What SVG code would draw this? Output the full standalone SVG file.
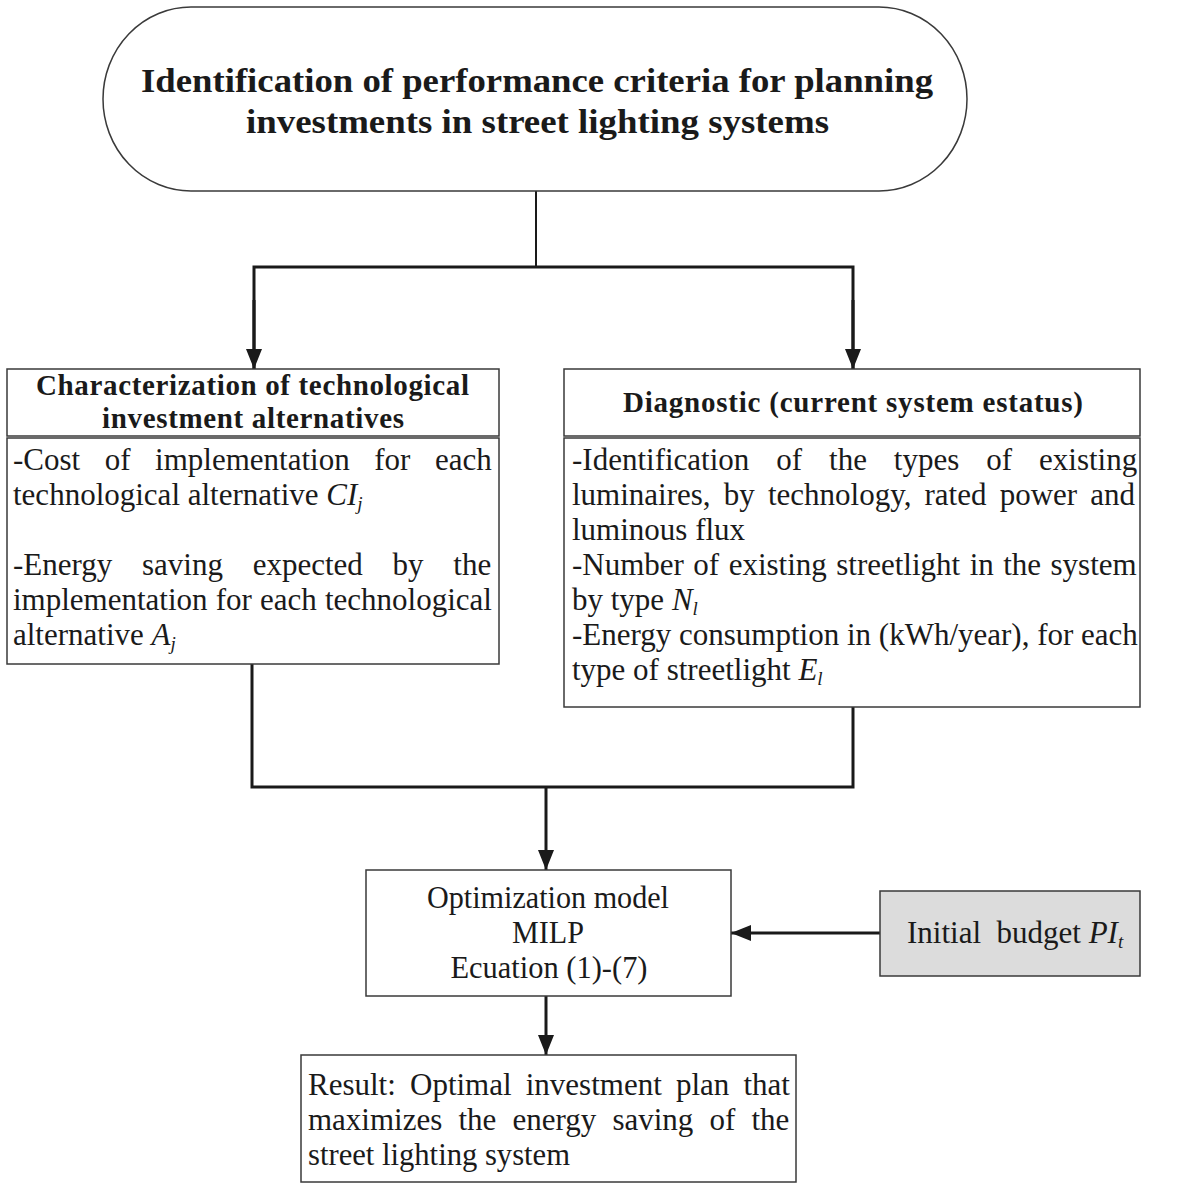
<svg xmlns="http://www.w3.org/2000/svg" width="1200" height="1186" viewBox="0 0 1200 1186">
<style>
.box{fill:#fff;stroke:#3a3a3a;stroke-width:1.5}
.gray{fill:#dcdcdc;stroke:#3a3a3a;stroke-width:1.5}
.t{font-family:"Liberation Serif","Times New Roman",serif;font-size:31px;fill:#1a1a1a}
.b{font-weight:bold;font-size:29px}
.title{font-size:33px}
.c{text-anchor:middle}
.i{font-style:italic}
.s{font-size:19px;font-style:italic}
.conn{stroke:#1a1a1a;stroke-width:3;fill:none}
</style>
<defs>
<marker id="ah" markerWidth="20" markerHeight="16" refX="20" refY="8" orient="auto" markerUnits="userSpaceOnUse">
<path d="M0,0 L20,8 L0,16 Z" fill="#1a1a1a"/>
</marker>
</defs>
<g id="connectors">
<line class="conn" x1="536" y1="191" x2="536" y2="267" style="stroke-width:2"/>
<polyline class="conn" points="254,369 254,267 853,267 853,369"/>
<line class="conn" x1="254" y1="300" x2="254" y2="369" marker-end="url(#ah)"/>
<line class="conn" x1="853" y1="300" x2="853" y2="369" marker-end="url(#ah)"/>
<polyline class="conn" points="252,664 252,787 853,787 853,707"/>
<line class="conn" x1="546" y1="787" x2="546" y2="870" marker-end="url(#ah)"/>
<line class="conn" x1="882" y1="933" x2="731" y2="933" marker-end="url(#ah)"/>
<line class="conn" x1="546" y1="996" x2="546" y2="1055" marker-end="url(#ah)"/>
</g>
<g id="start">
<rect class="box" x="103" y="7" width="864" height="184" rx="88" ry="92"/>
<text class="t b title" x="141" y="92" textLength="792" lengthAdjust="spacingAndGlyphs">Identification of performance criteria for planning</text>
<text class="t b title" x="246" y="133" textLength="583" lengthAdjust="spacingAndGlyphs">investments in street lighting systems</text>
</g>
<g id="characterization">
<rect class="box" x="7" y="369" width="492" height="67"/>
<rect class="box" x="7" y="438" width="492" height="226"/>
<text class="t b" x="36" y="395" textLength="433" lengthAdjust="spacing">Characterization of technological</text>
<text class="t b" x="102" y="428" textLength="302" lengthAdjust="spacing">investment alternatives</text>
<text class="t" x="13" y="470" style="word-spacing:16.8px">-Cost of implementation for each</text>
<text class="t" x="13" y="505">technological alternative <tspan class="i">CI</tspan><tspan class="s" dy="5">j</tspan></text>
<text class="t" x="13" y="575" style="word-spacing:22px">-Energy saving expected by the</text>
<text class="t" x="13" y="610" style="word-spacing:0.4px">implementation for each technological</text>
<text class="t" x="13" y="645">alternative <tspan class="i">A</tspan><tspan class="s" dy="5">j</tspan></text>
</g>
<g id="diagnostic">
<rect class="box" x="564" y="369" width="576" height="67"/>
<rect class="box" x="564" y="438" width="576" height="269"/>
<text class="t b c" x="853" y="412" textLength="460" lengthAdjust="spacing">Diagnostic (current system estatus)</text>
<text class="t" x="572" y="470" style="word-spacing:19.2px">-Identification of the types of existing</text>
<text class="t" x="572" y="505" style="word-spacing:5.4px">luminaires, by technology, rated power and</text>
<text class="t" x="572" y="540">luminous flux</text>
<text class="t" x="572" y="575" style="word-spacing:1.7px">-Number of existing streetlight in the system</text>
<text class="t" x="572" y="610">by type <tspan class="i">N</tspan><tspan class="s" dy="5">l</tspan></text>
<text class="t" x="572" y="645">-Energy consumption in (kWh/year), for each</text>
<text class="t" x="572" y="680">type of streetlight <tspan class="i">E</tspan><tspan class="s" dy="5">l</tspan></text>
</g>
<g id="optimization">
<rect class="box" x="366" y="870" width="365" height="126"/>
<text class="t c" x="548" y="908" textLength="242" lengthAdjust="spacingAndGlyphs">Optimization model</text>
<text class="t c" x="548" y="943" textLength="72" lengthAdjust="spacingAndGlyphs">MILP</text>
<text class="t c" x="549" y="978" textLength="197" lengthAdjust="spacingAndGlyphs">Ecuation (1)-(7)</text>
</g>
<g id="budget">
<rect class="gray" x="880" y="891" width="260" height="85"/>
<text class="t" x="907" y="943" xml:space="preserve">Initial  budget <tspan class="i">PI</tspan><tspan class="s" dy="5">t</tspan></text>
</g>
<g id="result">
<rect class="box" x="301" y="1055" width="495" height="127"/>
<text class="t" x="308" y="1095" style="word-spacing:6.4px">Result: Optimal investment plan that</text>
<text class="t" x="308" y="1130" style="word-spacing:8.4px">maximizes the energy saving of the</text>
<text class="t" x="308" y="1165" textLength="262" lengthAdjust="spacingAndGlyphs">street lighting system</text>
</g>
</svg>
